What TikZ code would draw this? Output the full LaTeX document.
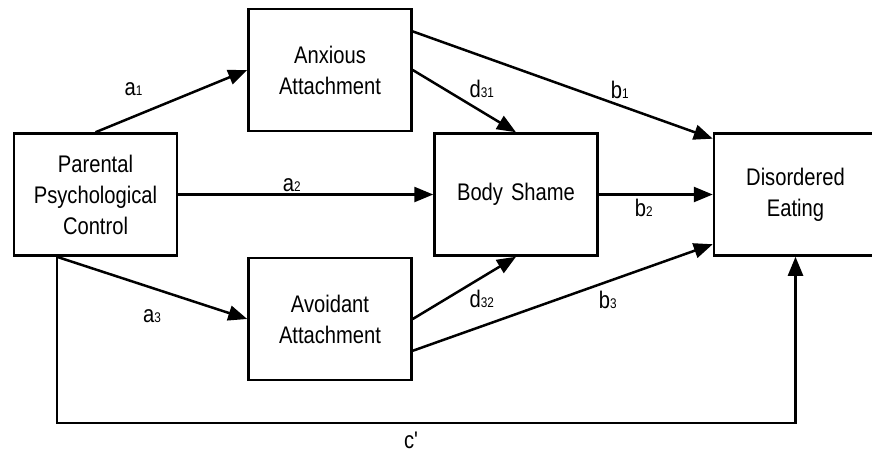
\documentclass[tikz,border=0pt]{standalone}
\usepackage{fontspec}
\setmainfont{Liberation Sans}[FakeStretch=0.84]
\usetikzlibrary{shapes.geometric, arrows.meta, positioning}
\tikzstyle{block} = [rectangle, draw, line width=2.5pt, text width=150pt, text centered, minimum width=163pt, minimum height=122pt, font=\fontsize{24}{31}\selectfont]
\tikzstyle{arrow} = [draw, -{Triangle[length=19pt,width=15pt]}, line width=2.5pt]
\tikzstyle{coef} = [font=\fontsize{24}{26}\selectfont, inner sep=2pt]
\newcommand{\idx}[1]{{\fontsize{14}{14}\selectfont #1}}

\begin{document}
\begin{tikzpicture}[x=1pt, y=1pt]
  	\useasboundingbox (0,0) rectangle (872,-461);
  	
  	% Bloques del modelo
  	\node (parental) [block] at (95.5,-194.5) {Parental\\Psychological\\Control};
  	\node (bodyshame) [block, right=255pt of parental] {Body Shame};
  	\node (disordered) [block, right=114pt of bodyshame] {Disordered\\Eating};
  	
  	% Mediadores arriba y abajo
  	\node (anxious) [block, above right=0pt and 69pt of parental] {Anxious\\Attachment};
  	\node (avoidant) [block, below right=0pt and 69pt of parental] {Avoidant\\Attachment};
  	
  	% Puntos auxiliares para el camino directo
  	\coordinate (pc) at ([xshift=44pt]parental.south west);
  	\coordinate (pcbot) at ([yshift=-166pt]pc);
  	
  	% Flechas desde el bloque de la izquierda
  	\draw [arrow] (parental.north) -- (anxious.west) node[coef, pos=0.25, above=18pt] {a\idx{1}};
  	\draw [arrow] (parental) -- (bodyshame) node[coef, midway, above, xshift=-14pt] {a\idx{2}};
  	\draw [arrow] (pc) -- (avoidant.west) node[coef, midway, below=18pt] {a\idx{3}};
  	
  	% Flechas hacia la vergüenza corporal
  	\draw [arrow] (anxious.east) -- (bodyshame.north) node[coef, midway, above right=0pt and 2pt] {d\idx{31}};
  	\draw [arrow] (avoidant.east) -- (bodyshame.south) node[coef, midway, below right=-1pt and 2pt] {d\idx{32}};
  	
  	% Flechas hacia el resultado
  	\draw [arrow] (anxious.25) -- (disordered.146) node[coef, pos=0.69, above=3pt] {b\idx{1}};
  	\draw [arrow] (bodyshame) -- (disordered) node[coef, midway, below=1pt, xshift=-12pt] {b\idx{2}};
  	\draw [arrow] (avoidant.-21) -- (disordered.211) node[coef, pos=0.65, below=6pt] {b\idx{3}};
  	
  	% Efecto directo por debajo
  	\draw [arrow] (pc) -- (pcbot) -| (disordered.south) node[coef, pos=0.24, below=6pt] {c\textquotesingle};
  	
\end{tikzpicture}
\end{document}
